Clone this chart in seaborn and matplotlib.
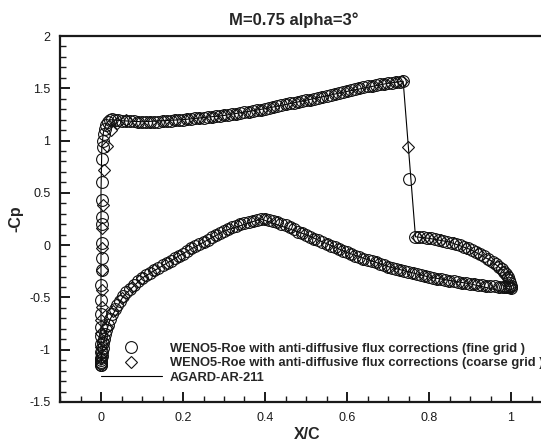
import numpy as np
import pandas as pd
import matplotlib
matplotlib.use("Agg")
import matplotlib.pyplot as plt
from matplotlib.lines import Line2D
import seaborn as sns

# ---------------- data ----------------
# fine grid, upper surface (circles)
up_fine_x = [0.0, 0.0, 0.0, 0.0, 0.0005, 0.0005, 0.001, 0.001, 0.001, 0.001, 0.0015, 0.0015,
             0.0015, 0.002, 0.002, 0.002, 0.0025, 0.003, 0.004, 0.005, 0.007, 0.009, 0.012,
             0.016, 0.021, 0.027, 0.034, 0.042, 0.05, 0.06, 0.07, 0.08, 0.09,
             0.10, 0.11, 0.12, 0.13, 0.14, 0.15, 0.16, 0.17, 0.18, 0.19, 0.20, 0.21, 0.22,
             0.23, 0.24, 0.25, 0.26, 0.27, 0.28, 0.29, 0.30, 0.31, 0.32, 0.33, 0.34, 0.35,
             0.36, 0.37, 0.38, 0.39, 0.40, 0.41, 0.42, 0.43, 0.44, 0.45, 0.46, 0.47, 0.48,
             0.49, 0.50, 0.51, 0.52, 0.53, 0.54, 0.55, 0.56, 0.57, 0.58, 0.59, 0.60, 0.61,
             0.62, 0.63, 0.64, 0.65, 0.66, 0.67, 0.68, 0.69, 0.70, 0.71, 0.72, 0.73, 0.737,
             0.752,
             0.765, 0.775, 0.785, 0.795, 0.805, 0.815, 0.825, 0.835, 0.845, 0.855, 0.865,
             0.875, 0.885, 0.895, 0.905, 0.915, 0.925, 0.935, 0.945, 0.955, 0.963, 0.970,
             0.977, 0.983, 0.988, 0.992, 0.995, 0.998, 1.0]
up_fine_cp = [-1.15, -1.12, -1.08, -1.02, -0.95, -0.87, -0.78, -0.66, -0.52, -0.38, -0.24, -0.12,
              0.02, 0.20, 0.27, 0.43, 0.60, 0.82, 0.94, 1.00, 1.06, 1.11, 1.15,
              1.18, 1.20, 1.205, 1.20, 1.195, 1.19, 1.187, 1.185, 1.183, 1.181,
              1.180, 1.180, 1.180, 1.181, 1.182, 1.184, 1.186, 1.189, 1.192, 1.196, 1.200,
              1.204, 1.208, 1.212, 1.216, 1.220, 1.224, 1.228, 1.232, 1.237, 1.242, 1.247,
              1.252, 1.257, 1.263, 1.269, 1.275, 1.282, 1.290, 1.297, 1.305, 1.312, 1.320,
              1.329, 1.338, 1.347, 1.355, 1.363, 1.370, 1.378, 1.385, 1.392, 1.400, 1.409,
              1.418, 1.427, 1.436, 1.446, 1.455, 1.463, 1.472, 1.484, 1.495, 1.503, 1.510,
              1.518, 1.525, 1.532, 1.538, 1.543, 1.548, 1.553, 1.558, 1.563, 1.567,
              0.63,
              0.08, 0.08, 0.075, 0.07, 0.065, 0.058, 0.05, 0.042, 0.033, 0.022, 0.01,
              -0.003, -0.017, -0.032, -0.048, -0.066, -0.086, -0.108, -0.132, -0.158, -0.182,
              -0.205, -0.23, -0.255, -0.28, -0.305, -0.33, -0.36, -0.39]

# fine grid, lower surface (circles)
lo_fine_x = [0.0, 0.0005, 0.001, 0.002, 0.003, 0.004, 0.005, 0.007, 0.010, 0.013, 0.017, 0.022,
             0.028, 0.034, 0.040, 0.047, 0.054, 0.062, 0.070, 0.080, 0.090,
             0.10, 0.11, 0.12, 0.13, 0.14, 0.15, 0.16, 0.17, 0.18, 0.19, 0.20, 0.21, 0.22,
             0.23, 0.24, 0.25, 0.26, 0.27, 0.28, 0.29, 0.30, 0.31, 0.32, 0.33, 0.34, 0.35,
             0.36, 0.37, 0.38, 0.39, 0.40, 0.41, 0.42, 0.43, 0.44, 0.45, 0.46, 0.47, 0.48,
             0.49, 0.50, 0.51, 0.52, 0.53, 0.54, 0.55, 0.56, 0.57, 0.58, 0.59, 0.60, 0.61,
             0.62, 0.63, 0.64, 0.65, 0.66, 0.67, 0.68, 0.69, 0.70, 0.71, 0.72, 0.73, 0.74,
             0.75, 0.76, 0.77, 0.78, 0.79, 0.80, 0.81, 0.82, 0.83, 0.84, 0.85, 0.86, 0.87,
             0.88, 0.89, 0.90, 0.91, 0.92, 0.93, 0.94, 0.95, 0.96, 0.97, 0.98, 0.985, 0.99,
             0.995, 1.0]
lo_fine_cp = [-1.15, -1.13, -1.10, -1.06, -1.02, -0.98, -0.94, -0.90, -0.85, -0.81, -0.76, -0.71,
              -0.66, -0.61, -0.57, -0.53, -0.49, -0.45, -0.42, -0.38, -0.345,
              -0.315, -0.29, -0.265, -0.24, -0.215, -0.19, -0.17, -0.15, -0.125, -0.10, -0.08,
              -0.055, -0.03, -0.01, 0.01, 0.03, 0.05, 0.075, 0.095, 0.115, 0.135, 0.15, 0.17,
              0.185, 0.20, 0.215, 0.225, 0.235, 0.245, 0.25, 0.25, 0.245, 0.235, 0.22, 0.205,
              0.19, 0.17, 0.15, 0.13, 0.115, 0.10, 0.08, 0.06, 0.045, 0.03, 0.01, -0.005,
              -0.02, -0.04, -0.055, -0.07, -0.085, -0.10, -0.115, -0.13, -0.14, -0.155, -0.165,
              -0.18, -0.19, -0.205, -0.215, -0.23, -0.24, -0.25, -0.26, -0.27, -0.28, -0.29,
              -0.295, -0.305, -0.31, -0.32, -0.325, -0.335, -0.34, -0.345, -0.35, -0.36,
              -0.365, -0.37, -0.375, -0.38, -0.385, -0.39, -0.39, -0.395, -0.40, -0.40,
              -0.40, -0.405, -0.405, -0.41]

# coarse grid, upper surface (diamonds)
up_coarse_x = [0.0, 0.0, 0.0005, 0.001, 0.001, 0.0015, 0.0015, 0.002, 0.002, 0.003, 0.004,
               0.008, 0.014, 0.024, 0.04, 0.06,
               0.09, 0.12, 0.15, 0.18, 0.21, 0.24, 0.27, 0.30, 0.33, 0.36, 0.39, 0.42, 0.45,
               0.48, 0.51, 0.54, 0.57, 0.60, 0.63, 0.66, 0.69, 0.72, 0.735,
               0.750,
               0.77, 0.80, 0.83, 0.86, 0.89, 0.92, 0.945, 0.965, 0.98, 0.99, 1.0]
up_coarse_cp = [-1.15, -1.08, -0.97, -0.84, -0.72, -0.59, -0.43, -0.24, -0.03, 0.16, 0.38,
                0.72, 0.95, 1.10, 1.17, 1.20,
                1.181, 1.180, 1.184, 1.192, 1.204, 1.216, 1.228, 1.242, 1.257, 1.275, 1.297,
                1.320, 1.347, 1.370, 1.392, 1.418, 1.446, 1.472, 1.503, 1.525, 1.543, 1.558,
                1.565,
                0.94,
                0.08, 0.065, 0.046, 0.016, -0.024, -0.076, -0.138, -0.2, -0.255, -0.305, -0.39]

# coarse grid, lower surface (diamonds)
lo_coarse_x = [0.006, 0.015, 0.03, 0.05, 0.075, 0.10, 0.13, 0.16, 0.19, 0.22, 0.25, 0.28,
               0.31, 0.34, 0.37, 0.40, 0.43, 0.46, 0.49, 0.52, 0.55, 0.58, 0.61, 0.64, 0.67,
               0.70, 0.73, 0.76, 0.79, 0.82, 0.85, 0.88, 0.91, 0.94, 0.97, 1.0]
lo_coarse_cp = [-0.92, -0.78, -0.63, -0.51, -0.40, -0.315, -0.24, -0.17, -0.10, -0.03, 0.03,
                0.095, 0.15, 0.20, 0.235, 0.25, 0.22, 0.17, 0.115, 0.06, 0.01, -0.04, -0.085,
                -0.13, -0.165, -0.205, -0.24, -0.27, -0.295, -0.32, -0.34, -0.36, -0.375,
                -0.39, -0.40, -0.41]

# AGARD-AR-211 reference curve (solid line): TE upper -> LE -> TE lower
agard_x = [1.0, 1.0, 0.98, 0.95, 0.90, 0.85, 0.80, 0.767, 0.737, 0.70, 0.60, 0.50, 0.40,
           0.30, 0.20, 0.10, 0.05, 0.022, 0.012, 0.006, 0.002, 0.0, 0.0, 0.0,
           0.005, 0.022, 0.054, 0.10, 0.20, 0.30, 0.39, 0.50, 0.60, 0.70, 0.80, 0.90, 1.0]
agard_cp = [-0.46, -0.39, -0.24, -0.145, -0.04, 0.03, 0.065, 0.08, 1.567, 1.548, 1.47, 1.385,
            1.305, 1.24, 1.20, 1.18, 1.19, 1.20, 1.16, 1.08, 0.95, 0.5, -0.5, -1.15,
            -0.94, -0.71, -0.49, -0.315, -0.08, 0.135, 0.25, 0.10, -0.07, -0.205, -0.305,
            -0.37, -0.46]

title = "M=0.75 alpha=3\u00b0"
legend_labels = ["WENO5-Roe with anti-diffusive flux corrections (fine grid )",
                 "WENO5-Roe with anti-diffusive flux corrections (coarse grid )",
                 "AGARD-AR-211"]

# ---------------- figure ----------------
sns.set_style("ticks")
plt.rcParams["font.family"] = ["Liberation Sans", "DejaVu Sans"]

fig = plt.figure(figsize=(5.41, 4.42), dpi=100)
ax = fig.add_axes([60 / 541, 40 / 442, 492 / 541, 366 / 442])

fine = pd.DataFrame({"x": up_fine_x + lo_fine_x, "cp": up_fine_cp + lo_fine_cp,
                     "surf": ["u"] * len(up_fine_x) + ["l"] * len(lo_fine_x)})
coarse = pd.DataFrame({"x": up_coarse_x + lo_coarse_x, "cp": up_coarse_cp + lo_coarse_cp,
                       "surf": ["u"] * len(up_coarse_x) + ["l"] * len(lo_coarse_x)})
agard = pd.DataFrame({"x": agard_x, "cp": agard_cp})

edge = "#111111"
sns.lineplot(data=agard, x="x", y="cp", sort=False, estimator=None, color="black",
             lw=0.8, ax=ax, legend=False)
sns.lineplot(data=fine, x="x", y="cp", sort=False, estimator=None, units="surf",
             color="black", lw=0, marker="o", markersize=8.5, markerfacecolor="none",
             markeredgecolor=edge, markeredgewidth=0.8, ax=ax, legend=False)
sns.lineplot(data=coarse, x="x", y="cp", sort=False, estimator=None, units="surf",
             color="black", lw=0, marker="D", markersize=6.0, markerfacecolor="none",
             markeredgecolor=edge, markeredgewidth=0.8, ax=ax, legend=False)

ax.set_xlim(-0.1, 1.1)
ax.set_ylim(-1.5, 2.0)
ax.set_xticks([0, 0.2, 0.4, 0.6, 0.8, 1.0])
ax.set_xticklabels(["0", "0.2", "0.4", "0.6", "0.8", "1"])
ax.set_yticks([-1.5, -1, -0.5, 0, 0.5, 1, 1.5, 2])
ax.set_yticklabels(["-1.5", "-1", "-0.5", "0", "0.5", "1", "1.5", "2"])
ax.set_xticks(np.arange(-0.1, 1.1001, 0.05), minor=True)
ax.set_yticks(np.arange(-1.5, 2.0001, 0.1), minor=True)
ax.tick_params(which="both", direction="in", top=False, right=False, colors="#1a1a1a")
ax.tick_params(which="major", length=7, width=1.4, labelsize=9, pad=7)
ax.tick_params(which="minor", length=4, width=1.0)
for s in ["left", "bottom", "top", "right"]:
    ax.spines[s].set_linewidth(1.6)
    ax.spines[s].set_color("#1a1a1a")

ax.set_xlabel("X/C", fontsize=11.5, fontweight="bold", labelpad=0)
ax.set_ylabel("-Cp", fontsize=11.5, fontweight="bold", labelpad=4)
ax.xaxis.set_label_coords((307 - 60) / 492, -0.068)
fig.text(294 / 541, 1 - 20 / 442, title, ha="center", va="center",
         fontsize=12, fontweight="bold")

handles = [Line2D([], [], ls="", marker="o", markersize=8.5, mfc="none", mec=edge, mew=0.8),
           Line2D([], [], ls="", marker="D", markersize=6.0, mfc="none", mec=edge, mew=0.8),
           Line2D([], [], ls="-", color="black", lw=0.8)]
ax.legend(handles, legend_labels, loc="lower left", bbox_to_anchor=(41 / 492, 0.05),
          frameon=False, prop={"weight": "bold", "size": 9.3}, handlelength=4.7,
          handletextpad=0.65, labelspacing=0.18, borderpad=0, borderaxespad=0)

fig.savefig("out.png", dpi=100)
